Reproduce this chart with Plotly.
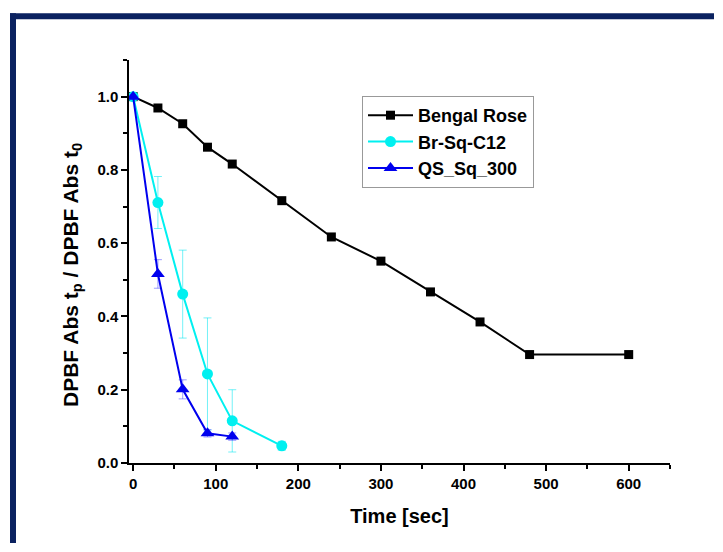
import plotly.graph_objects as go

# Bengal Rose
t_br = [0, 30, 60, 90, 120, 180, 240, 300, 360, 420, 480, 600]
y_br = [1.0, 0.969, 0.926, 0.862, 0.816, 0.716, 0.617, 0.551, 0.467, 0.385, 0.296, 0.296]

# Br-Sq-C12
t_sq = [0, 30, 60, 90, 120, 180]
y_sq = [1.0, 0.711, 0.461, 0.243, 0.115, 0.047]
e_sq = [0.0, 0.071, 0.12, 0.153, 0.085, 0.012]

# QS_Sq_300
t_qs = [0, 30, 60, 90, 120]
y_qs = [1.0, 0.516, 0.201, 0.081, 0.072]
e_qs = [0.0, 0.039, 0.026, 0.01, 0.01]

font_main = "Liberation Sans, Arial, sans-serif"

fig = go.Figure()
fig.add_trace(go.Scatter(
    x=t_br, y=y_br, name="Bengal Rose", mode="lines+markers",
    line=dict(color="black", width=2),
    marker=dict(symbol="square", size=9, color="black")))
fig.add_trace(go.Scatter(
    x=t_sq, y=y_sq, name="Br-Sq-C12", mode="lines+markers",
    line=dict(color="#00f0f0", width=2),
    marker=dict(symbol="circle", size=11, color="#00f0f0"),
    error_y=dict(type="data", array=e_sq, color="rgba(0,230,240,0.55)", thickness=1, width=4)))
fig.add_trace(go.Scatter(
    x=t_qs, y=y_qs, name="QS_Sq_300", mode="lines+markers",
    line=dict(color="#0000ee", width=2),
    marker=dict(symbol="triangle-up", size=12, color="#0000ee"),
    error_y=dict(type="data", array=e_qs, color="rgba(60,60,255,0.5)", thickness=1, width=4)))

axis_common = dict(
    showline=True, linecolor="black", linewidth=1.5, showgrid=False, zeroline=False,
    ticks="outside", ticklen=6, tickwidth=1.5, tickcolor="black",
    tickfont=dict(family=font_main, size=15, color="black", weight="bold"),
    mirror=False, automargin=False)

fig.update_xaxes(
    range=[-5, 650], dtick=100, tick0=0,
    minor=dict(ticks="outside", ticklen=4, dtick=50, tickcolor="black", tickwidth=1.5),
    title=dict(text="Time [sec]", font=dict(family=font_main, size=20, color="black", weight="bold"), standoff=18),
    **axis_common)
fig.update_yaxes(
    range=[0, 1.1], dtick=0.2, tick0=0, tickformat=".1f",
    minor=dict(ticks="outside", ticklen=4, dtick=0.1, tickcolor="black", tickwidth=1.5),
    **axis_common)

# page body adds an 8px margin, so the figure is laid out 8px up/left
W, H = 707, 536
L, R, T, B = 121, 45, 52, 81
pw, ph = W - L - R, H - T - B

def px(x):
    return (x - L) / pw

def py(y):
    return (H - B - y) / ph

# y axis title, sitting a little below the plot centre as in the original
fig.add_annotation(
    text="DPBF Abs t<sub>p</sub> / DPBF Abs t<sub>0</sub>",
    xref="paper", yref="paper", x=px(64), y=py(267), textangle=-90,
    showarrow=False, xanchor="center", yanchor="middle",
    font=dict(family=font_main, size=21, color="black", weight="bold"))

# dark navy frame: top and left edges
navy = "#0b2260"
fig.add_shape(type="line", xref="paper", yref="paper",
              x0=px(2), x1=px(W - 1), y0=py(8.3), y1=py(8.3),
              line=dict(color=navy, width=6), layer="below")
fig.add_shape(type="line", xref="paper", yref="paper",
              x0=px(5), x1=px(5), y0=py(5.3), y1=py(H - 1),
              line=dict(color=navy, width=6), layer="below")

fig.update_layout(
    width=W, height=H,
    margin=dict(l=L, r=R, t=T, b=B),
    paper_bgcolor="white", plot_bgcolor="white",
    font=dict(family=font_main, color="black"),
    legend=dict(x=px(354), y=py(88), xanchor="left", yanchor="top",
                bordercolor="#999999", borderwidth=1, bgcolor="white",
                font=dict(family=font_main, size=18, color="black", weight="bold"),
                tracegroupgap=0, itemwidth=45),
    showlegend=True)

fig.write_html("out.html")
